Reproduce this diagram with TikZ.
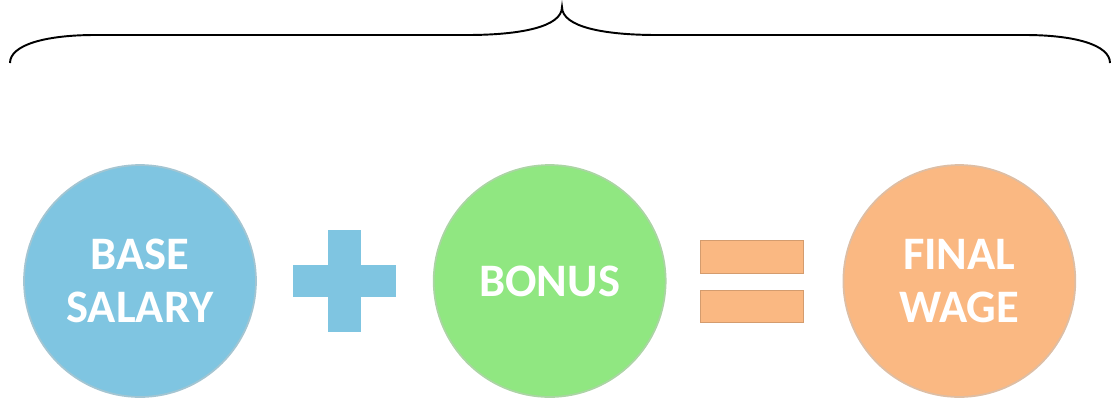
\documentclass[tikz,border=0pt]{standalone}
\usepackage{fontspec}
\setmainfont{Carlito}
\usetikzlibrary{positioning}

\definecolor{salaryblue}{RGB}{127,197,225}
\definecolor{bonusgreen}{RGB}{144,231,129}
\definecolor{wageorange}{RGB}{250,184,130}

\tikzset{
  coin/.style={circle, minimum size=4.64cm, inner sep=0pt, align=center,
    text=white, font=\bfseries\fontsize{26.5}{30}\selectfont, line width=1pt},
  opsign/.style={inner sep=0pt, outer sep=0pt, minimum width=2.06cm},
}

\begin{document}
\begin{tikzpicture}[x=0.02cm, y=-0.02cm, node distance=0.72cm]
\useasboundingbox (0,0) rectangle (1112,400);

% the sum: base + bonus = wage
\node[coin, fill=salaryblue, draw=salaryblue!80!black!60] (base) at (140,281) {BASE\\SALARY};
\node[opsign, minimum height=2.06cm, right=0.72cm of base] (plus) {};
\node[coin, fill=bonusgreen, draw=bonusgreen!80!black!60, right=0.74cm of plus] (bonus) {BONUS};
\node[opsign, minimum height=1.64cm, right=0.68cm of bonus] (equals) {};
\node[coin, fill=wageorange, draw=wageorange!80!black!60, right=0.78cm of equals] (wage) {FINAL\\WAGE};

% plus sign
\fill[salaryblue] ([xshift=-0.33cm]plus.north) rectangle ([xshift=0.33cm]plus.south);
\fill[salaryblue] ([yshift=0.32cm]plus.west) rectangle ([yshift=-0.32cm]plus.east);

% equals sign
\fill[wageorange, draw=wageorange!85!black, line width=0.4pt]
  (equals.north west) rectangle ([yshift=-0.66cm]equals.north east);
\fill[wageorange, draw=wageorange!85!black, line width=0.4pt]
  ([yshift=0.64cm]equals.south west) rectangle (equals.south east);

% brace over everything
\coordinate (braceL) at (10,63);
\coordinate (braceTip) at (562,7);
\coordinate (braceR) at (1110,63);
\draw[line width=1.1pt] (braceL) .. controls (10,45) and (45,35) .. (95,35) -- (467,35)
  .. controls (520,35) and (562,27) .. (braceTip)
  .. controls (562,27) and (604,35) .. (657,35) -- (1025,35)
  .. controls (1075,35) and (1110,45) .. (braceR);
\end{tikzpicture}
\end{document}
